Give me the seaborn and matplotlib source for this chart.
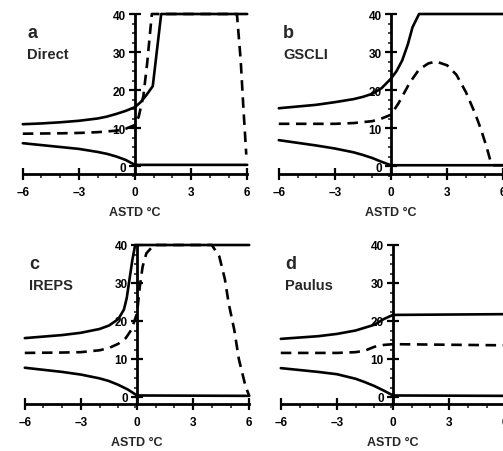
import numpy as np
import pandas as pd
import matplotlib
matplotlib.use("Agg")
import matplotlib.pyplot as plt
from matplotlib.ticker import MultipleLocator
import seaborn as sns

# ---- data: duct height vs air-sea temperature difference (ASTD) ----
panel_letters = ["a", "b", "c", "d"]
panel_names = ["Direct", "GSCLI", "IREPS", "Paulus"]

a_upper_x = [-6, -5, -4, -3, -2, -1.5, -1, -0.5, 0, 0.3, 0.6, 0.95, 1.4, 6]
a_upper_y = [11, 11.2, 11.5, 11.9, 12.5, 13.0, 13.7, 14.5, 15.5, 16.8, 18.6, 21, 40, 40]
a_mid_x = [-6, -4, -3, -2, -1, -0.5, 0, 0.2, 0.45, 0.65, 0.9, 5.45, 5.65, 5.8, 5.95]
a_mid_y = [8.5, 8.6, 8.7, 8.9, 9.3, 9.8, 10.8, 13, 18.5, 27, 40, 40, 28, 15, 3]
a_low_x = [-6, -5, -4, -3, -2, -1.5, -1, -0.5, -0.2, 0, 6]
a_low_y = [6, 5.5, 5, 4.5, 3.7, 3.2, 2.5, 1.6, 0.8, 0.3, 0.3]

b_upper_x = [-6, -4, -3, -2, -1.5, -1, -0.5, 0, 0.3, 0.6, 0.9, 1.15, 1.5, 6]
b_upper_y = [15.2, 16.1, 16.8, 17.6, 18.2, 19.0, 20.5, 23, 25, 27.8, 32, 36.5, 40, 40]
b_mid_x = [-6, -4, -3, -2, -1, -0.5, 0, 0.4, 1, 1.5, 2, 2.4, 3, 3.5, 4, 4.5, 4.8, 5.1, 5.35, 5.45, 6]
b_mid_y = [11.1, 11.1, 11.1, 11.3, 11.8, 12.5, 13.5, 16.5, 21.9, 25.4, 27, 27.5, 26.5, 24, 19.5, 13.8, 9.8, 5.2, 0.8, 0.2, 0.2]
b_low_x = [-6, -4, -3, -2, -1.5, -1, -0.5, 0, 6]
b_low_y = [6.8, 5.4, 4.6, 3.6, 2.9, 2.1, 1.1, 0.2, 0.2]

c_upper_x = [-6, -4, -3, -2, -1.5, -1, -0.7, -0.55, -0.4, -0.25, -0.1, 6]
c_upper_y = [15.5, 16.3, 16.9, 17.9, 18.8, 20.5, 23, 26, 31, 36, 40, 40]
c_mid_x = [-6, -4, -3, -2, -1.5, -1, -0.6, -0.3, 0, 0.15, 0.3, 0.5, 0.9, 4.0, 4.4, 4.7, 4.9, 5.2, 5.45, 5.8, 6]
c_mid_y = [11.6, 11.7, 11.8, 12.3, 12.9, 14, 15.5, 17.7, 22, 29, 34.3, 37.8, 40, 40, 37, 31, 24.7, 17.7, 9.9, 2.9, 0.3]
c_low_x = [-6, -4, -3, -2, -1.5, -1, -0.5, 0, 6]
c_low_y = [7.7, 6.6, 5.9, 4.9, 4.2, 3.2, 2.0, 0.4, 0.3]

d_upper_x = [-6, -4, -3, -2, -1, -0.5, 0, 6]
d_upper_y = [15.3, 16.0, 16.6, 17.5, 19, 20.5, 21.6, 21.8]
d_mid_x = [-6, -4, -3, -2, -1.5, -1, -0.5, 0, 6]
d_mid_y = [11.6, 11.6, 11.6, 11.8, 12.2, 13.2, 13.7, 13.9, 13.6]
d_low_x = [-6, -4, -3, -2, -1.5, -1, -0.5, 0, 6]
d_low_y = [7.6, 6.6, 6.0, 4.8, 3.9, 2.9, 1.7, 0.4, 0.3]

x_ticks = [-6, -3, 0, 3, 6]
y_ticks = [0, 10, 20, 30, 40]
x_label = "ASTD °C"

curves = {
    "a": [(a_upper_x, a_upper_y, "-"), (a_mid_x, a_mid_y, "--"), (a_low_x, a_low_y, "-")],
    "b": [(b_upper_x, b_upper_y, "-"), (b_mid_x, b_mid_y, "--"), (b_low_x, b_low_y, "-")],
    "c": [(c_upper_x, c_upper_y, "-"), (c_mid_x, c_mid_y, "--"), (c_low_x, c_low_y, "-")],
    "d": [(d_upper_x, d_upper_y, "-"), (d_mid_x, d_mid_y, "--"), (d_low_x, d_low_y, "-")],
}

# ---- styling ----
sns.set_style("white")
plt.rcParams["font.family"] = ["Liberation Sans", "DejaVu Sans"]
plt.rcParams["font.weight"] = "bold"

W, H = 503, 452
fig = plt.figure(figsize=(W / 100, H / 100), dpi=100)

PPU_X = 18.7           # pixels per degree
XLO, XHI = -6.4, 6.4
YLO, YHI = -3.5, 41.0

# pixel anchors per panel: (x of ASTD=0, y of 40, y of 0, y of bottom axis in data)
layout = {
    "a": (135, 15, 167, -2.2),
    "b": (391, 15, 167, -2.2),
    "c": (137, 246, 398, -1.9),
    "d": (393, 246, 398, -1.9),
}


def add_panel(key, name):
    x0, y40, y0, xaxis_y = layout[key]
    ppu_y = (y0 - y40) / 40.0
    left = x0 + XLO * PPU_X
    width = (XHI - XLO) * PPU_X
    top = y40 - (YHI - 40) * ppu_y
    bottom = y0 - YLO * ppu_y
    ax = fig.add_axes([left / W, 1 - bottom / H, width / W, (bottom - top) / H])
    ax.set_facecolor("none")
    ax.set_xlim(XLO, XHI)
    ax.set_ylim(YLO, YHI)

    for xs, ys, ls in curves[key]:
        df = pd.DataFrame({"astd": xs, "h": ys})
        sns.lineplot(data=df, x="astd", y="h", ax=ax, color="black",
                     linewidth=1.9, linestyle=ls, sort=False)
        if ls == "--":
            ax.lines[-1].set_dashes((4, 2.5))

    for s in ("top", "right"):
        ax.spines[s].set_visible(False)
    ax.spines["left"].set_position(("data", 0))
    ax.spines["bottom"].set_position(("data", xaxis_y))
    ax.spines["left"].set_bounds(xaxis_y, 40)
    ax.spines["bottom"].set_bounds(-6, 6)
    for s in ("left", "bottom"):
        ax.spines[s].set_linewidth(2.0)
        ax.spines[s].set_color("black")

    ax.set_xticks(x_ticks)
    ax.set_xticklabels([("\u2013" + str(-t)) if t < 0 else str(t) for t in x_ticks])
    ax.set_yticks(y_ticks)
    ax.set_yticklabels([str(t) for t in y_ticks])
    ax.xaxis.set_minor_locator(MultipleLocator(1))
    ax.yaxis.set_minor_locator(MultipleLocator(2.5))
    ax.tick_params(axis="x", which="major", direction="inout", length=8, width=1.6,
                   labelsize=8.5, pad=4.5, colors="black", bottom=True)
    ax.tick_params(axis="x", which="minor", direction="out", length=3, width=1.2,
                   bottom=True)
    ax.tick_params(axis="y", which="major", direction="inout", length=9, width=1.6,
                   labelsize=8.5, pad=2, colors="black", left=True)
    ax.tick_params(axis="y", which="minor", direction="out", length=2.5, width=1.2,
                   left=True)
    for lab in ax.get_xticklabels() + ax.get_yticklabels():
        lab.set_fontweight("bold")

    ax.set_xlabel(x_label, fontsize=9, fontweight="bold", labelpad=6)
    ax.set_ylabel("")

    fig.text((x0 - 108) / W, 1 - (y40 + 19) / H, key, fontsize=13,
             fontweight="bold", ha="left", va="center")
    fig.text((x0 - 108) / W, 1 - (y40 + 40) / H, name, fontsize=10.5,
             fontweight="bold", ha="left", va="center")
    return ax


for key, name in zip(panel_letters, panel_names):
    add_panel(key, name)

fig.savefig("out.png", dpi=100)
